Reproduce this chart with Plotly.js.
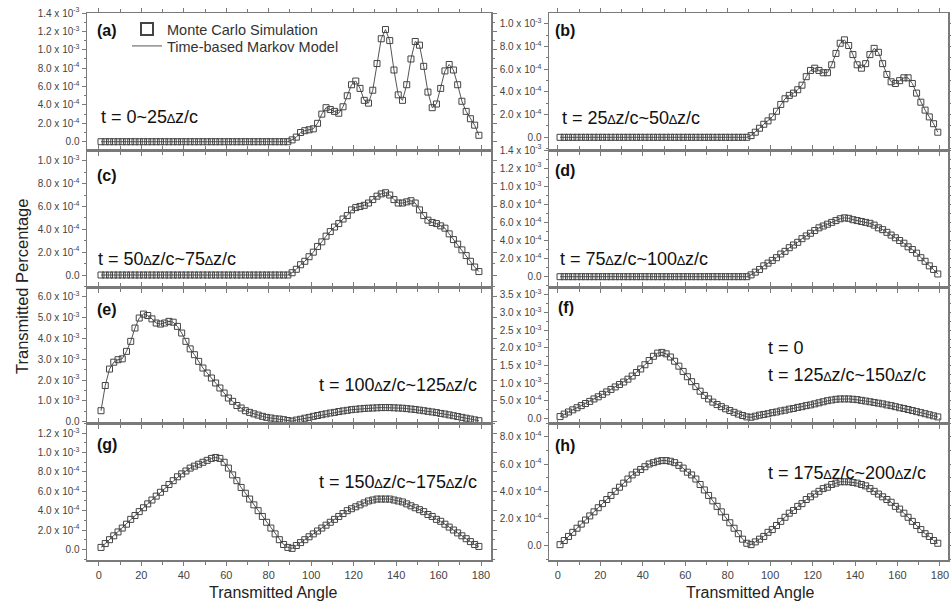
<!DOCTYPE html>
<html><head><meta charset="utf-8">
<script src="https://cdn.plot.ly/plotly-3.0.1.min.js"></script>
<style>html,body{margin:0;padding:0;background:#fff}#chart{width:951px;height:604px}</style>
</head><body><div id="chart"></div>
<script>
// Transmitted angle (deg)
const angles = [1,3,5,7,9,11,13,15,17,19,21,23,25,27,29,31,33,35,37,39,41,43,45,47,49,51,53,55,57,59,61,63,65,67,69,71,73,75,77,79,81,83,85,87,89,
91,93,95,97,99,101,103,105,107,109,111,113,115,117,119,121,123,125,127,129,131,133,135,137,139,141,143,145,147,149,151,153,155,157,159,161,163,165,167,169,171,173,175,177,179];

// Transmitted percentage, in units of 1e-3
const mcA = [0,0,0,0,0,0,0,0,0,0,0,0,0,0,0,0,0,0,0,0,0,0,0,0,0,0,0,0,0,0,0,0,0,0,0,0,0,0,0,0,0,0,0,0,0,
0.02,0.05,0.10,0.12,0.13,0.14,0.20,0.30,0.37,0.35,0.33,0.31,0.38,0.50,0.62,0.66,0.58,0.45,0.42,0.56,0.85,1.12,1.22,1.10,0.78,0.51,0.45,0.62,0.90,1.09,1.05,0.82,0.54,0.37,0.41,0.58,0.77,0.84,0.78,0.62,0.44,0.33,0.25,0.18,0.07];
const mcB = [0,0,0,0,0,0,0,0,0,0,0,0,0,0,0,0,0,0,0,0,0,0,0,0,0,0,0,0,0,0,0,0,0,0,0,0,0,0,0,0,0,0,0,0,0,
0.015,0.045,0.08,0.115,0.145,0.18,0.23,0.29,0.34,0.37,0.39,0.42,0.46,0.535,0.59,0.61,0.59,0.57,0.57,0.64,0.74,0.83,0.86,0.81,0.73,0.64,0.61,0.65,0.73,0.785,0.75,0.65,0.555,0.49,0.475,0.50,0.525,0.525,0.475,0.39,0.31,0.24,0.18,0.12,0.045];
const mcC = [0,0,0,0,0,0,0,0,0,0,0,0,0,0,0,0,0,0,0,0,0,0,0,0,0,0,0,0,0,0,0,0,0,0,0,0,0,0,0,0,0,0,0,0,0,
0.02,0.05,0.09,0.12,0.16,0.20,0.25,0.29,0.34,0.38,0.42,0.45,0.49,0.52,0.57,0.59,0.60,0.61,0.63,0.66,0.69,0.71,0.72,0.70,0.66,0.63,0.63,0.64,0.65,0.63,0.57,0.52,0.48,0.46,0.45,0.43,0.41,0.36,0.31,0.27,0.22,0.17,0.12,0.07,0.03];
const mcD = [0,0,0,0,0,0,0,0,0,0,0,0,0,0,0,0,0,0,0,0,0,0,0,0,0,0,0,0,0,0,0,0,0,0,0,0,0,0,0,0,0,0,0,0,0,
0.02,0.05,0.08,0.12,0.15,0.18,0.21,0.25,0.28,0.32,0.35,0.38,0.42,0.45,0.48,0.51,0.54,0.56,0.58,0.60,0.62,0.64,0.65,0.645,0.63,0.62,0.61,0.60,0.59,0.57,0.54,0.52,0.49,0.46,0.43,0.40,0.37,0.33,0.30,0.26,0.21,0.17,0.12,0.08,0.03];
const mcE = [0.53,1.74,2.53,2.86,2.98,3.02,3.38,3.86,4.50,4.98,5.17,5.10,4.94,4.74,4.69,4.74,4.82,4.78,4.58,4.26,3.86,3.50,3.22,2.90,2.58,2.34,2.10,1.86,1.62,1.38,1.14,0.98,0.78,0.66,0.53,0.45,0.38,0.32,0.26,0.21,0.18,0.14,0.13,0.10,0.06,
0.03,0.08,0.12,0.17,0.21,0.26,0.30,0.34,0.38,0.42,0.45,0.49,0.52,0.55,0.58,0.60,0.62,0.64,0.65,0.66,0.67,0.68,0.68,0.68,0.67,0.66,0.65,0.63,0.61,0.59,0.56,0.53,0.50,0.47,0.44,0.40,0.37,0.33,0.29,0.25,0.21,0.17,0.13,0.09,0.05];
const mcF = [0.05,0.12,0.18,0.24,0.30,0.36,0.42,0.48,0.55,0.61,0.68,0.75,0.82,0.89,0.96,1.03,1.11,1.20,1.30,1.40,1.52,1.64,1.76,1.85,1.87,1.83,1.74,1.62,1.48,1.33,1.18,1.04,0.90,0.77,0.65,0.55,0.46,0.39,0.33,0.27,0.22,0.17,0.12,0.08,0.04,
0.03,0.06,0.09,0.11,0.13,0.16,0.18,0.21,0.23,0.26,0.28,0.31,0.33,0.36,0.38,0.41,0.44,0.47,0.50,0.52,0.54,0.55,0.55,0.55,0.54,0.53,0.51,0.49,0.47,0.45,0.43,0.41,0.38,0.36,0.33,0.30,0.28,0.25,0.22,0.19,0.16,0.13,0.10,0.07,0.04];
const mcG = [0.02,0.06,0.10,0.14,0.18,0.22,0.26,0.31,0.35,0.39,0.43,0.47,0.51,0.55,0.59,0.63,0.67,0.71,0.75,0.78,0.81,0.84,0.86,0.88,0.90,0.92,0.94,0.95,0.94,0.90,0.84,0.77,0.71,0.64,0.58,0.52,0.46,0.40,0.34,0.28,0.22,0.16,0.10,0.05,0.02,
0.01,0.04,0.07,0.10,0.13,0.16,0.19,0.22,0.25,0.28,0.31,0.34,0.37,0.40,0.42,0.44,0.46,0.48,0.50,0.51,0.52,0.52,0.52,0.52,0.51,0.50,0.49,0.47,0.45,0.43,0.41,0.39,0.36,0.34,0.31,0.29,0.26,0.23,0.20,0.17,0.14,0.11,0.08,0.05,0.03];
const mcH = [0.01,0.04,0.07,0.10,0.13,0.16,0.19,0.22,0.25,0.28,0.31,0.34,0.37,0.40,0.43,0.46,0.49,0.52,0.54,0.56,0.58,0.60,0.61,0.62,0.625,0.625,0.62,0.61,0.59,0.57,0.54,0.52,0.49,0.45,0.41,0.37,0.33,0.29,0.25,0.21,0.17,0.13,0.09,0.05,0.02,
0.01,0.03,0.05,0.07,0.10,0.12,0.15,0.18,0.21,0.24,0.26,0.29,0.31,0.34,0.36,0.38,0.40,0.42,0.43,0.45,0.46,0.47,0.47,0.47,0.465,0.46,0.45,0.44,0.42,0.40,0.38,0.36,0.34,0.32,0.29,0.27,0.24,0.21,0.18,0.15,0.12,0.09,0.07,0.04,0.02];

// Markov model curves coincide with the simulation within reading precision
const markovA = mcA, markovB = mcB, markovC = mcC, markovD = mcD,
      markovE = mcE, markovF = mcF, markovG = mcG, markovH = mcH;

// Tick values (units of 1e-3) and labels
const ticks14 = [0,0.2,0.4,0.6,0.8,1.0,1.2,1.4];
const labels14 = ["0.0","2.0 x 10<sup>-4</sup>","4.0 x 10<sup>-4</sup>","6.0 x 10<sup>-4</sup>","8.0 x 10<sup>-4</sup>","1.0 x 10<sup>-3</sup>","1.2 x 10<sup>-3</sup>","1.4 x 10<sup>-3</sup>"];
const ticks10 = [0,0.2,0.4,0.6,0.8,1.0];
const labels10 = ["0.0","2.0 x 10<sup>-4</sup>","4.0 x 10<sup>-4</sup>","6.0 x 10<sup>-4</sup>","8.0 x 10<sup>-4</sup>","1.0 x 10<sup>-3</sup>"];
const ticks12 = [0,0.2,0.4,0.6,0.8,1.0,1.2];
const labels12 = ["0.0","2.0 x 10<sup>-4</sup>","4.0 x 10<sup>-4</sup>","6.0 x 10<sup>-4</sup>","8.0 x 10<sup>-4</sup>","1.0 x 10<sup>-3</sup>","1.2 x 10<sup>-3</sup>"];
const ticks08 = [0,0.2,0.4,0.6,0.8];
const labels08 = ["0.0","2.0 x 10<sup>-4</sup>","4.0 x 10<sup>-4</sup>","6.0 x 10<sup>-4</sup>","8.0 x 10<sup>-4</sup>"];
const ticksE = [0,1,2,3,4,5,6];
const labelsE = ["0.0","1.0 x 10<sup>-3</sup>","2.0 x 10<sup>-3</sup>","3.0 x 10<sup>-3</sup>","4.0 x 10<sup>-3</sup>","5.0 x 10<sup>-3</sup>","6.0 x 10<sup>-3</sup>"];
const ticksF = [0,0.5,1.0,1.5,2.0,2.5,3.0,3.5];
const labelsF = ["0.0","5.0 x 10<sup>-4</sup>","1.0 x 10<sup>-3</sup>","1.5 x 10<sup>-3</sup>","2.0 x 10<sup>-3</sup>","2.5 x 10<sup>-3</sup>","3.0 x 10<sup>-3</sup>","3.5 x 10<sup>-3</sup>"];

const panelLabels = ["(a)","(b)","(c)","(d)","(e)","(f)","(g)","(h)"];
const D = "<span style='font-size:13px'>∆</span>";
const timeLabels = ["t = 0~25"+D+"z/c", "t = 25"+D+"z/c~50"+D+"z/c", "t = 50"+D+"z/c~75"+D+"z/c", "t = 75"+D+"z/c~100"+D+"z/c",
  "t = 100"+D+"z/c~125"+D+"z/c", "t = 125"+D+"z/c~150"+D+"z/c", "t = 150"+D+"z/c~175"+D+"z/c", "t = 175"+D+"z/c~200"+D+"z/c"];

const mc = [mcA,mcB,mcC,mcD,mcE,mcF,mcG,mcH];
const mk = [markovA,markovB,markovC,markovD,markovE,markovF,markovG,markovH];

// Layout geometry (pixels of a 951x604 canvas)
const W = 951, H = 604;
const colPx = [[87,491],[549,948]];
const rowPx = [[13,150],[150,287],[287,423],[423,560]];
const xRanges = [[-5.6,184.7],[-4.2,183.8]];
const yRanges = [[-0.09,1.4],[-0.112,1.097],[-0.105,1.094],[-0.114,1.4],[-0.06,6.47],[-0.133,3.726],[-0.11,1.306],[-0.1025,0.9]];
const yTicks = [[ticks14,labels14],[ticks10,labels10],[ticks10,labels10],[ticks14,labels14],[ticksE,labelsE],[ticksF,labelsF],[ticks12,labels12],[ticks08,labels08]];
const yMinor = [0.1,0.1,0.1,0.1,0.5,0.25,0.1,0.1];

const FONT = "Liberation Sans, Arial, sans-serif";
const AX = "#7a7a7a";
const traces = [];
const legendBase = {xanchor: "left", yanchor: "middle", bgcolor: "rgba(0,0,0,0)", borderwidth: 0,
  font: {size: 14.5, family: FONT, color: "#333"}, itemwidth: 30};
const layout = {
  width: W, height: H, margin: {l:0,r:0,t:0,b:0},
  paper_bgcolor: "#fff", plot_bgcolor: "#fff",
  font: {family: FONT, color: "#222"},
  showlegend: true,
  legend: Object.assign({x: 127/W, y: 1-29/H, itemsizing: "constant"}, legendBase),
  legend2: Object.assign({x: 127/W, y: 1-46/H}, legendBase),
  annotations: []
};

for (let i = 0; i < 8; i++) {
  const col = i % 2, row = Math.floor(i / 2);
  const sx = i === 0 ? "" : String(i + 1);
  const xa = "x" + sx, ya = "y" + sx;
  traces.push({x: angles, y: mk[i], xaxis: xa, yaxis: ya, type: "scatter", mode: "lines",
    line: {color: "#555", width: 1}, name: "Time-based Markov Model", showlegend: i === 0, legend: "legend2"});
  traces.push({x: angles, y: mc[i], xaxis: xa, yaxis: ya, type: "scatter", mode: "markers",
    marker: {symbol: "square-open", size: 6, color: "#444", line: {width: 1}},
    name: "Monte Carlo Simulation", showlegend: i === 0, legend: "legend"});
  const xd = [colPx[col][0]/W, colPx[col][1]/W];
  const yd = [1 - rowPx[row][1]/H, 1 - rowPx[row][0]/H];
  layout["xaxis" + sx] = {domain: xd, range: xRanges[col], anchor: ya,
    tickmode: "array", tickvals: [0,20,40,60,80,100,120,140,160,180],
    showticklabels: row === 3, ticks: "outside", ticklen: 4, tickwidth: 1, tickcolor: AX,
    minor: {dtick: 10, tick0: 0, ticks: "outside", ticklen: 3, tickcolor: AX},
    showline: true, linecolor: AX, linewidth: 1.5, mirror: "ticks",
    showgrid: false, zeroline: false,
    tickfont: {size: 11, family: FONT, color: "#444"}};
  layout["yaxis" + sx] = {domain: yd, range: yRanges[i], anchor: xa,
    tickmode: "array", tickvals: yTicks[i][0], ticktext: yTicks[i][1],
    ticks: "outside", ticklen: 4, tickwidth: 1, tickcolor: AX,
    minor: {dtick: yMinor[i], tick0: 0, ticks: "outside", ticklen: 2, tickcolor: AX},
    showline: true, linecolor: AX, linewidth: 1.5, mirror: "ticks",
    showgrid: false, zeroline: false,
    tickfont: {size: 10, family: FONT, color: "#444"}};
}

// Panel letters
const letterPos = [[107,31],[565,31],[107,175],[565,170],[107,309],[566,307],[107,444],[565,445]];
panelLabels.forEach((t, i) => layout.annotations.push({xref:"paper", yref:"paper", x: letterPos[i][0]/W, y: 1-letterPos[i][1]/H,
  text: "<b>"+t+"</b>", showarrow:false, xanchor:"center", yanchor:"middle", font:{size:16, family:FONT, color:"#111"}}));

// Time labels
const timePos = [[99,117,"left"],[560,118,"left"],[96,259,"left"],[558,259,"left"],[479,385,"right"],[766,375,"left"],[479,482,"right"],[766,473,"left"]];
timeLabels.forEach((t, i) => layout.annotations.push({xref:"paper", yref:"paper", x: timePos[i][0]/W, y: 1-timePos[i][1]/H,
  text: t, showarrow:false, xanchor: timePos[i][2], yanchor:"middle", font:{size:18, family:FONT, color:"#111"}}));
layout.annotations.push({xref:"paper", yref:"paper", x: 766/W, y: 1-348/H, text: "t = 0", showarrow:false,
  xanchor:"left", yanchor:"middle", font:{size:18, family:FONT, color:"#111"}});

// Axis titles
layout.annotations.push({xref:"paper", yref:"paper", x: 22/W, y: 1-287/H, text: "Transmitted Percentage", textangle: -90,
  showarrow:false, xanchor:"center", yanchor:"middle", font:{size:16.5, family:FONT, color:"#222"}});
layout.annotations.push({xref:"paper", yref:"paper", x: 273/W, y: 1-592/H, text: "Transmitted Angle",
  showarrow:false, xanchor:"center", yanchor:"middle", font:{size:16, family:FONT, color:"#222"}});
layout.annotations.push({xref:"paper", yref:"paper", x: 750/W, y: 1-592/H, text: "Transmitted Angle",
  showarrow:false, xanchor:"center", yanchor:"middle", font:{size:16, family:FONT, color:"#222"}});

Plotly.newPlot("chart", traces, layout, {staticPlot: true, displayModeBar: false});
</script></body></html>
